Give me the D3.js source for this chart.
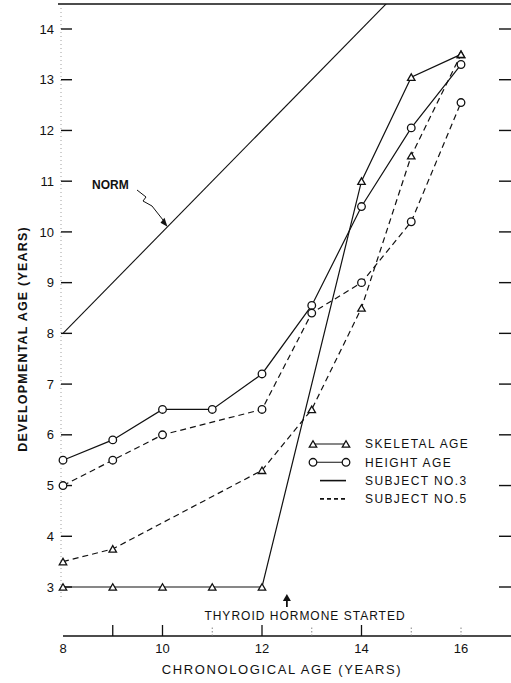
<!DOCTYPE html>
<html>
<head>
<meta charset="utf-8">
<script src="https://cdn.jsdelivr.net/npm/d3@7"></script>
<style>
  html, body { margin: 0; padding: 0; background: #fff; }
  svg { display: block; }
  text { font-family: "Liberation Sans", Arial, sans-serif; fill: #111; }
</style>
</head>
<body>
<svg id="chart"></svg>
<script>
// chronological age (years)
const years = [8, 9, 10, 11, 12, 13, 14, 15, 16];

// developmental ages (null = no point plotted)
const s3Skeletal = [3, 3, 3, 3, 3, null, 11.0, 13.05, 13.5];
const s3Height = [5.5, 5.9, 6.5, 6.5, 7.2, 8.55, 10.5, 12.05, 13.3];
const s5Skeletal = [3.5, 3.75, null, null, 5.3, 6.5, 8.5, 11.5, 13.5];
const s5Height = [5.0, 5.5, 6.0, null, 6.5, 8.4, 9.0, 10.2, 12.55];

// norm line: developmental age = chronological age
const normX = [8, 16];
const normY = [8, 16];

const yTicks = [3, 4, 5, 6, 7, 8, 9, 10, 11, 12, 13, 14];
const xTickLabels = [8, 10, 12, 14, 16];
const xTicksSolid = [9, 10, 12, 14];
const xTicksFaint = [11, 13, 15, 16];

const legendItems = [
  { label: 'SKELETAL AGE', marker: 'tri', dash: null },
  { label: 'HEIGHT AGE', marker: 'circle', dash: null },
  { label: 'SUBJECT NO.3', marker: null, dash: null },
  { label: 'SUBJECT NO.5', marker: null, dash: '4,3' }
];

const width = 511;
const height = 683;
const svg = d3.select('#chart').attr('width', width).attr('height', height);

const x = d3.scaleLinear().domain([8, 16]).range([63, 461]);
const y = d3.scaleLinear().domain([3, 14]).range([587, 29]);

const topY = 4;
const axisY = 636;

// clip so the norm line stops at the top border
svg.append('clipPath').attr('id', 'plot-clip')
  .append('rect').attr('x', 55).attr('y', topY).attr('width', 456).attr('height', axisY - topY);

// frame: top border, bottom axis, faint dotted left spine
svg.append('line')
  .attr('x1', 58).attr('x2', 511).attr('y1', topY).attr('y2', topY)
  .attr('stroke', '#111').attr('stroke-width', 1.3);
svg.append('line')
  .attr('x1', 63).attr('x2', 511).attr('y1', axisY).attr('y2', axisY)
  .attr('stroke', '#111').attr('stroke-width', 1.3);
svg.append('line')
  .attr('x1', 61).attr('x2', 61).attr('y1', topY + 4).attr('y2', 600)
  .attr('stroke', '#888').attr('stroke-width', 0.8).attr('stroke-dasharray', '1,3');

// left ticks + labels
const yAxisG = svg.append('g');
yAxisG.selectAll('line').data(yTicks).enter().append('line')
  .attr('x1', 61).attr('x2', 72)
  .attr('y1', (d) => y(d)).attr('y2', (d) => y(d))
  .attr('stroke', '#111').attr('stroke-width', 1.4);
yAxisG.selectAll('text').data(yTicks).enter().append('text')
  .attr('x', 54).attr('y', (d) => y(d))
  .attr('dy', '0.36em')
  .attr('text-anchor', 'end')
  .attr('font-size', 13)
  .text((d) => d);

// right ticks (outside, no labels)
svg.append('g').selectAll('line').data(yTicks).enter().append('line')
  .attr('x1', 499).attr('x2', 511)
  .attr('y1', (d) => y(d)).attr('y2', (d) => y(d))
  .attr('stroke', '#111').attr('stroke-width', 1.4);

// bottom ticks
svg.append('g').selectAll('line').data(xTicksSolid).enter().append('line')
  .attr('x1', (d) => x(d)).attr('x2', (d) => x(d))
  .attr('y1', axisY).attr('y2', axisY - 11)
  .attr('stroke', '#111').attr('stroke-width', 1.3);
svg.append('g').selectAll('line').data(xTicksFaint).enter().append('line')
  .attr('x1', (d) => x(d)).attr('x2', (d) => x(d))
  .attr('y1', axisY).attr('y2', axisY - 9)
  .attr('stroke', '#777').attr('stroke-width', 0.9).attr('stroke-dasharray', '1.5,2');
svg.append('g').selectAll('text').data(xTickLabels).enter().append('text')
  .attr('x', (d) => x(d)).attr('y', axisY + 12)
  .attr('dy', '0.36em')
  .attr('text-anchor', 'middle')
  .attr('font-size', 13)
  .text((d) => d);

// axis titles
svg.append('text')
  .attr('x', 282).attr('y', 669).attr('dy', '0.36em')
  .attr('text-anchor', 'middle')
  .attr('font-size', 13)
  .attr('letter-spacing', 1.6)
  .text('CHRONOLOGICAL AGE (YEARS)');
svg.append('text')
  .attr('transform', 'translate(22,339) rotate(-90)')
  .attr('dy', '0.36em')
  .attr('text-anchor', 'middle')
  .attr('font-size', 12.5)
  .attr('font-weight', 'bold')
  .attr('letter-spacing', 1.2)
  .text('DEVELOPMENTAL AGE (YEARS)');

// norm
const line = d3.line().x((d) => x(d.x)).y((d) => y(d.y));
svg.append('path')
  .datum(normX.map((v, i) => ({ x: v, y: normY[i] })))
  .attr('clip-path', 'url(#plot-clip)')
  .attr('d', line)
  .attr('fill', 'none').attr('stroke', '#111').attr('stroke-width', 1.1);

svg.append('text')
  .attr('x', 92).attr('y', 185).attr('dy', '0.36em')
  .attr('font-size', 12).attr('font-weight', 'bold')
  .text('NORM');
// zigzag pointer to the norm line
const nx = x(10.1), ny = y(10.1);
svg.append('path')
  .attr('d', `M137,190 L146,197 L143,201 L152,206 L${nx - 3},${ny - 5}`)
  .attr('fill', 'none').attr('stroke', '#111').attr('stroke-width', 1);
svg.append('path')
  .attr('d', `M${nx},${ny} L${nx - 7},${ny - 4} L${nx - 3},${ny - 9} Z`)
  .attr('fill', '#111');

// series
function seriesPoints(vals) {
  return years.map((yr, i) => ({ x: yr, y: vals[i] })).filter((d) => d.y != null);
}

const series = [
  { vals: s3Skeletal, marker: 'tri', dash: null },
  { vals: s3Height, marker: 'circle', dash: null },
  { vals: s5Skeletal, marker: 'tri', dash: '6,4' },
  { vals: s5Height, marker: 'circle', dash: '6,4' }
];

const triPath = d3.symbol().type(d3.symbolTriangle).size(24);

function drawMarker(g, type, px, py) {
  if (type === 'circle') {
    g.append('circle')
      .attr('cx', px).attr('cy', py).attr('r', 3.8)
      .attr('fill', '#fff').attr('stroke', '#111').attr('stroke-width', 1.3);
  } else if (type === 'tri') {
    g.append('path')
      .attr('d', triPath())
      .attr('transform', `translate(${px},${py + 1})`)
      .attr('fill', '#fff').attr('stroke', '#111').attr('stroke-width', 1.3);
  }
}

series.forEach((s) => {
  const pts = seriesPoints(s.vals);
  svg.append('path')
    .datum(pts)
    .attr('d', line)
    .attr('fill', 'none')
    .attr('stroke', '#111')
    .attr('stroke-width', 1.2)
    .attr('stroke-dasharray', s.dash);
});
series.forEach((s) => {
  const g = svg.append('g');
  seriesPoints(s.vals).forEach((d) => drawMarker(g, s.marker, x(d.x), y(d.y)));
});

// legend
const legend = svg.append('g');
legendItems.forEach((item, i) => {
  const ly = 444 + i * 18.3;
  const x0 = item.marker ? 313 : 320;
  legend.append('line')
    .attr('x1', x0).attr('x2', 346).attr('y1', ly).attr('y2', ly)
    .attr('stroke', '#111').attr('stroke-width', item.marker ? 1.1 : 1.6)
    .attr('stroke-dasharray', item.dash);
  if (item.marker) {
    drawMarker(legend, item.marker, 313, ly);
    drawMarker(legend, item.marker, 346, ly);
  }
  legend.append('text')
    .attr('x', 365).attr('y', ly).attr('dy', '0.36em')
    .attr('font-size', 12)
    .attr('letter-spacing', 1.4)
    .text(item.label);
});

// treatment annotation
const ax = x(12.5);
svg.append('line')
  .attr('x1', ax).attr('x2', ax).attr('y1', 600).attr('y2', 607)
  .attr('stroke', '#111').attr('stroke-width', 1.8);
svg.append('path')
  .attr('d', `M${ax},594 L${ax - 4},601 L${ax + 4},601 Z`)
  .attr('fill', '#111');
svg.append('text')
  .attr('x', 305).attr('y', 616).attr('dy', '0.36em')
  .attr('text-anchor', 'middle')
  .attr('font-size', 12)
  .attr('letter-spacing', 1)
  .text('THYROID HORMONE STARTED');
</script>
</body>
</html>
